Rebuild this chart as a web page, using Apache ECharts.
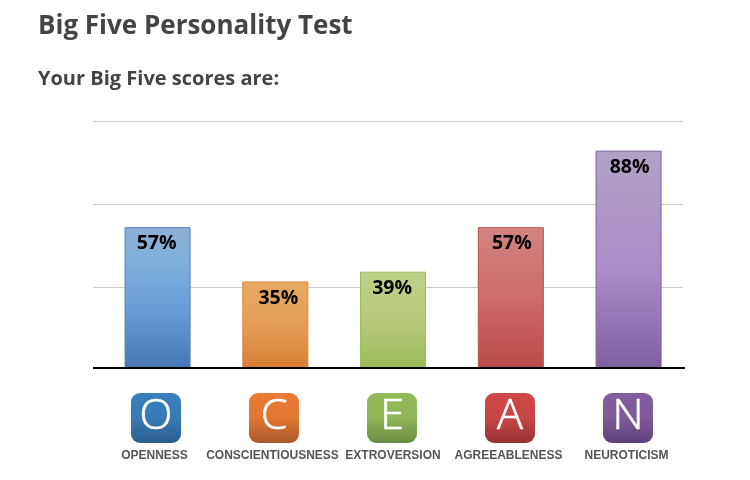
<!DOCTYPE html>
<html>
<head>
<meta charset="utf-8">
<style>html,body{margin:0;padding:0;background:#fff}#c{width:750px;height:480px}</style>
<script src="https://cdn.jsdelivr.net/npm/echarts@6/dist/echarts.min.js"></script>
</head>
<body>
<div id="c"></div>
<script>
const categories = ['OPENNESS','CONSCIENTIOUSNESS','EXTROVERSION','AGREEABLENESS','NEUROTICISM'];
const scores = [57,35,39,57,88];
const letters = ['O','C','E','A','N'];
const gridLevels = [0,1,2,3];
const barStops = [
  [[0,'#8fafd6'],[0.25,'#7fb0d9'],[0.6,'#689bd8'],[1,'#4677b4']],
  [[0,'#e8a962'],[0.5,'#e49d56'],[1,'#d97e35']],
  [[0,'#bdd18a'],[0.5,'#b8c97a'],[1,'#9bbb59']],
  [[0,'#d38481'],[0.5,'#cd6c68'],[1,'#b94a47']],
  [[0,'#b0a2c6'],[0.55,'#ab8cc8'],[1,'#7f5f9f']]
];
const barBorders = ['#4a7ebb','#d9843a','#9bbb59','#be4b48','#7d60a0'];
const tileStops = [
  [[0,'#3a80bf'],[0.5,'#367ab5'],[1,'#2c5f8f']],
  [[0,'#ea7a35'],[0.5,'#e27733'],[1,'#a85a2a']],
  [[0,'#93bb5a'],[0.5,'#8fb556'],[1,'#6b8c44']],
  [[0,'#cf4747'],[0.5,'#c94545'],[1,'#953333']],
  [[0,'#835c9e'],[0.5,'#7e5a99'],[1,'#5c4078']]
];
const labelNudge = [[-1,0],[3,0],[-1,0],[1,0],[1,0]];
const grad = s => new echarts.graphic.LinearGradient(0,0,0,1,s.map(p=>({offset:p[0],color:p[1]})));
const capLabel = {fontFamily:'Liberation Sans',fontWeight:'bold',fontSize:12,color:'#555'};

const chart = echarts.init(document.getElementById('c'), null, {renderer:'canvas'});
chart.setOption({
  animation:false,
  backgroundColor:'#fff',
  title:[
    {text:'Big Five Personality Test',left:38,top:9,padding:0,textStyle:{fontFamily:'Open Sans',fontWeight:'bold',fontSize:26,lineHeight:36,color:'#444'}},
    {text:'Your Big Five scores are:',left:38,top:65,padding:0,textStyle:{fontFamily:'Open Sans',fontWeight:'bold',fontSize:20,lineHeight:28,color:'#444'}}
  ],
  grid:[
    {left:98.7,width:588.75,top:121,height:247},
    {left:93,width:590,top:121,height:249},
    {left:93,width:592,top:121,height:247},
    {left:97,width:590,top:393,height:50}
  ],
  xAxis:[
    {type:'category',gridIndex:0,data:categories,axisLine:{show:false},axisTick:{show:false},axisLabel:{show:false}},
    {type:'category',gridIndex:1,data:categories,show:false},
    {type:'category',gridIndex:2,data:categories,axisLine:{show:true,lineStyle:{color:'#000',width:2,cap:'butt'}},axisTick:{show:false},axisLabel:{show:false},z:5},
    {type:'category',gridIndex:3,data:categories,axisLine:{show:false},axisTick:{show:false},
     axisLabel:{show:true,interval:0,margin:7,hideOverlap:false,
       formatter:v=>v==='EXTROVERSION'?'{e|'+v+'}':'{n|'+v+'}',
       rich:{n:{...capLabel,padding:[0,3,0,0]},e:{...capLabel,padding:[0,0,0,2]}}}}
  ],
  yAxis:[
    {type:'value',gridIndex:0,min:0,max:100,show:false,splitLine:{show:false}},
    {type:'value',gridIndex:1,min:gridLevels[0],max:gridLevels[3],interval:1,axisLine:{show:false},axisTick:{show:false},axisLabel:{show:false},
     splitLine:{show:true,showMinLine:false,lineStyle:{color:'#ccc',width:1}}},
    {type:'value',gridIndex:2,min:0,max:100,show:false,splitLine:{show:false}},
    {type:'value',gridIndex:3,min:0,max:1,show:false,splitLine:{show:false}}
  ],
  series:[
    {type:'bar',xAxisIndex:0,yAxisIndex:0,barWidth:66,z:3,
     data:scores.map((v,i)=>({value:v,
       itemStyle:{color:grad(barStops[i]),borderColor:barBorders[i],borderWidth:1},
       label:{show:true,position:'insideTop',distance:6.5,offset:labelNudge[i],formatter:'{c}%',fontFamily:'Open Sans',fontWeight:'bold',fontSize:19.5,color:'#000'}}))},
    {type:'custom',xAxisIndex:3,yAxisIndex:3,z:3,silent:true,
     data:letters.map((l,i)=>[i,0.5,l]),
     encode:{x:0,y:1},
     renderItem:(params,api)=>{
       const p=api.coord([api.value(0),api.value(1)]);
       const i=params.dataIndex;
       return {type:'group',children:[
         {type:'rect',shape:{x:p[0]-25,y:p[1]-25,width:50,height:50,r:9},style:{fill:grad(tileStops[i])}},
         {type:'text',x:p[0],y:p[1]-1,style:{text:letters[i],fill:'#fff',stroke:'#fff',lineWidth:0.7,font:'300 43px "Open Sans"',align:'center',verticalAlign:'middle'}}
       ]};
     }}
  ]
});
</script>
</body>
</html>
